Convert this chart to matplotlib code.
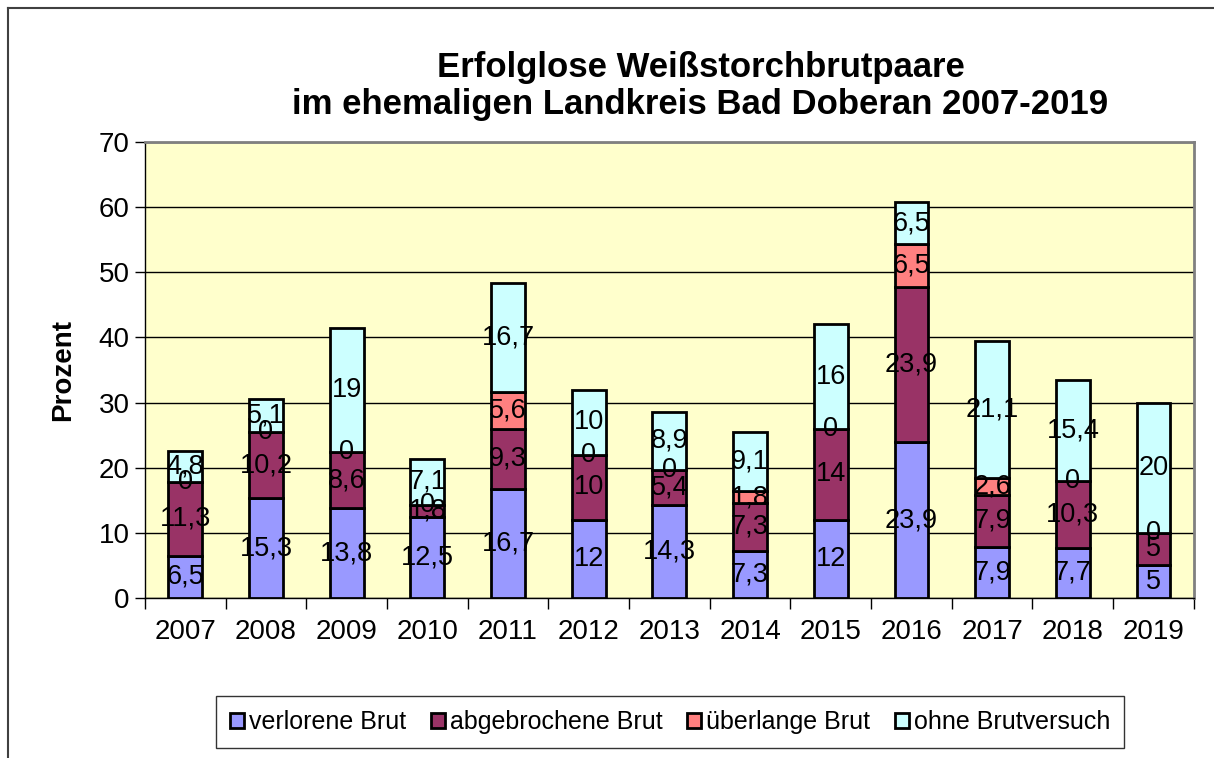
import numpy as np
import matplotlib.pyplot as plt
from matplotlib.lines import Line2D

plt.rcParams['font.family'] = ['Liberation Sans', 'DejaVu Sans']

years = ['2007', '2008', '2009', '2010', '2011', '2012', '2013',
         '2014', '2015', '2016', '2017', '2018', '2019']
verloren = [6.5, 15.3, 13.8, 12.5, 16.7, 12, 14.3, 7.3, 12, 23.9, 7.9, 7.7, 5]
abgebrochen = [11.3, 10.2, 8.6, 1.8, 9.3, 10, 5.4, 7.3, 14, 23.9, 7.9, 10.3, 5]
ueberlang = [0, 0, 0, 0, 5.6, 0, 0, 1.8, 0, 6.5, 2.6, 0, 0]
ohne = [4.8, 5.1, 19, 7.1, 16.7, 10, 8.9, 9.1, 16, 6.5, 21.1, 15.4, 20]

series = [
    ('verlorene Brut', verloren, '#9999FF'),
    ('abgebrochene Brut', abgebrochen, '#993366'),
    ('überlange Brut', ueberlang, '#FF8080'),
    ('ohne Brutversuch', ohne, '#CCFFFF'),
]


def fmt(v):
    if float(v).is_integer():
        return str(int(v))
    return str(v).replace('.', ',')


fig = plt.figure(figsize=(12.14, 7.58), dpi=100)
ax = fig.add_axes([0.1194, 0.211, 0.864, 0.6016])
ax.set_facecolor('#FFFFCC')

x = np.arange(len(years))
bottom = np.zeros(len(years))
handles = []
for name, vals, col in series:
    vals = np.array(vals, dtype=float)
    b = ax.bar(x, vals, 0.42, bottom=bottom, color=col, edgecolor='black',
               linewidth=2, label=name, zorder=3)
    handles.append(b)
    for xi, v, b0 in zip(x, vals, bottom):
        ax.text(xi, b0 + v / 2, fmt(v), ha='center', va='center',
                fontsize=19.5, zorder=5)
    bottom += vals

ax.set_xlim(-0.5, len(years) - 0.5)
ax.set_ylim(0, 70)
ax.set_yticks(range(0, 71, 10))
ax.yaxis.grid(True, color='black', linewidth=1, zorder=1)
ax.set_axisbelow(True)
ax.set_xticks(x)
ax.set_xticklabels(years, fontsize=20)
ax.set_xticks(np.arange(-0.5, len(years)), minor=True)
ax.tick_params(axis='x', which='major', length=0, pad=15)
ax.tick_params(axis='x', which='minor', length=8, color='black', width=1)
ax.tick_params(axis='y', labelsize=20, length=7, width=1, color='black', pad=4)
for s in ax.spines.values():
    s.set_color('#808080')
    s.set_linewidth(2)
ax.spines['left'].set_color('black')
ax.spines['left'].set_linewidth(1)
ax.spines['bottom'].set_color('black')
ax.spines['bottom'].set_linewidth(1)

ax.set_ylabel('Prozent', fontsize=20, fontweight='bold', labelpad=16)

fig.text(0.577, 0.887, 'Erfolglose Weißstorchbrutpaare\nim ehemaligen Landkreis Bad Doberan 2007-2019',
         ha='center', va='center', fontsize=25, fontweight='bold', linespacing=1.15)

leg = fig.legend(handles=handles, loc='center', bbox_to_anchor=(0.552, 0.0475),
                 ncol=4, fontsize=18, frameon=True, fancybox=False,
                 handlelength=0.55, handleheight=0.55, handletextpad=0.2,
                 columnspacing=1.0, borderpad=0.55, edgecolor='black')
leg.get_frame().set_linewidth(1)

# outer chart frame (only top and left edges visible in the crop)
fig.add_artist(Line2D([8 / 1214, 8 / 1214], [0, 1 - 8 / 758], transform=fig.transFigure,
                      color='#404040', linewidth=1.5))
fig.add_artist(Line2D([8 / 1214, 1], [1 - 8 / 758, 1 - 8 / 758], transform=fig.transFigure,
                      color='#404040', linewidth=1.5))

fig.savefig('out.png', dpi=100)
